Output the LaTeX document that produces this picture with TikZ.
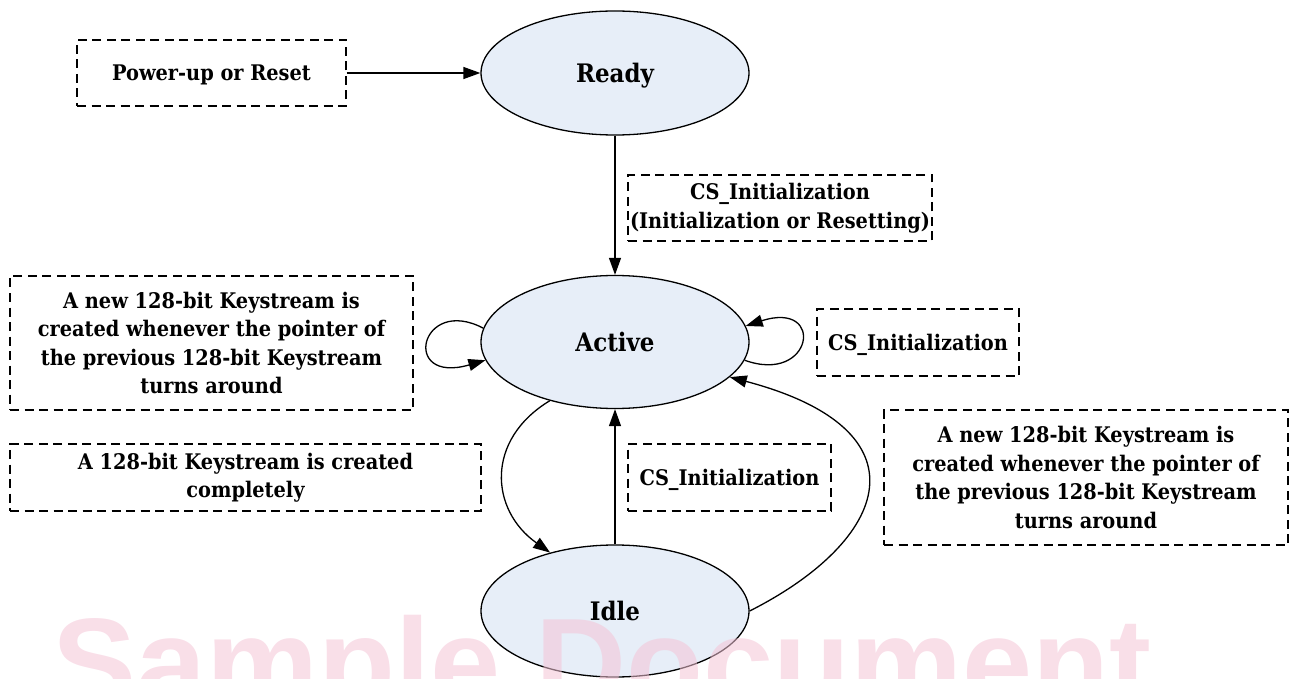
\documentclass[tikz,border=0pt]{standalone}
\usepackage{fontspec}
\setmainfont{DejaVu Serif Condensed}
\setsansfont{Liberation Sans}
\usetikzlibrary{arrows.meta,shapes.geometric}
\definecolor{stfill}{RGB}{231,238,248}
\definecolor{wm}{RGB}{244,196,214}
\tikzset{
  state/.style={ellipse,draw,line width=1.3pt,fill=stfill,inner sep=0pt,minimum width=268pt,text height=18.6pt,text depth=0pt,font=\fontsize{25.5}{30}\selectfont\bfseries},
  lbl/.style={draw,dash pattern=on 9pt off 5.5pt,line width=1.4pt,align=center,inner sep=0pt,font=\fontsize{21.5}{28.5}\selectfont\bfseries},
  oneline/.style={text height=15.7pt,text depth=0pt},
  conn/.style={line width=1.3pt,-{Triangle[length=17pt,width=12pt]}},
}
\begin{document}
\begin{tikzpicture}[x=1pt,y=-1pt]
\useasboundingbox (0,0) rectangle (1296,679);
\node[state,minimum height=124pt] (ready) at (615,73) {Ready};
\node[state,minimum height=133pt] (active) at (615,342) {Active};
\node[state,minimum height=132pt] (idle) at (615,611) {Idle};

\node[lbl,oneline,minimum width=269pt,minimum height=66pt] (pwr) at (211.5,73) {Power-up or Reset};
\node[lbl,minimum width=304pt,minimum height=66pt] (csa) at (780,208) {CS\_Initialization\\(Initialization or Resetting)};
\node[lbl,minimum width=403pt,minimum height=134pt] (newl) at (211.5,343) {A new 128-bit Keystream is\\created whenever the pointer of\\the previous 128-bit Keystream\\turns around};
\node[lbl,oneline,minimum width=202pt,minimum height=67pt] (csb) at (918,342.5) {CS\_Initialization};
\node[lbl,minimum width=471pt,minimum height=67pt] (comp) at (245.5,477.5) {A 128-bit Keystream is created\\completely};
\node[lbl,oneline,minimum width=203pt,minimum height=67pt] (csc) at (729.5,477.5) {CS\_Initialization};
\node[lbl,minimum width=404pt,minimum height=135pt] (newr) at (1086,477.5) {A new 128-bit Keystream is\\created whenever the pointer of\\the previous 128-bit Keystream\\turns around};

\draw[conn] (pwr.east) -- (ready.west);
\draw[conn] (ready.south) -- (active.north);
\draw[conn] (idle.north) -- (active.south);
\draw[conn] (active.174) .. controls (420,295) and (400,385) .. (active.188);
\draw[conn] (active.352) .. controls (813,385) and (826,300) .. (active.7);
\draw[conn] (active.222) .. controls (485,440) and (490,510) .. (idle.138);
\draw[conn] (idle.east) .. controls (890,540) and (930,430) .. (active.343);

\node[font=\sffamily\bfseries\fontsize{126}{126}\selectfont,text=wm,opacity=0.55,anchor=base west,inner sep=0pt] (wmk) at (52,706) {Sample Document};
\end{tikzpicture}
\end{document}
